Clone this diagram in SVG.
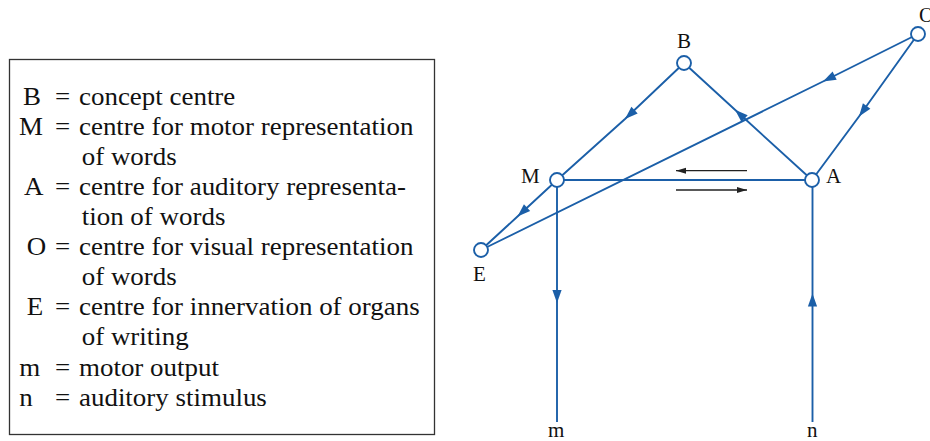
<svg xmlns="http://www.w3.org/2000/svg" width="930" height="441" viewBox="0 0 930 441">
<style>
.lg{font-size:24.5px}
.lb{font-size:21px}
.c{stroke:#1b5fa8;stroke-width:1.9;fill:none}
.n{fill:#fff;stroke:#1b5fa8;stroke-width:1.9}
.k{stroke:#222;stroke-width:1.3;fill:none}
</style>
<defs>
<marker id="ah" markerUnits="userSpaceOnUse" markerWidth="16" markerHeight="12" viewBox="-14 -6 16 12" refX="0" refY="0" orient="auto">
<path d="M0,0 L-13,-4.6 L-13,4.6 Z" fill="#1b5fa8"/>
</marker>
<marker id="kh" markerUnits="userSpaceOnUse" markerWidth="12" markerHeight="8" viewBox="-11 -4 12 8" refX="0" refY="0" orient="auto">
<path d="M0,0 L-10,-3 L-10,3 Z" fill="#222"/>
</marker>
</defs>
<g font-family="'Liberation Serif', 'Times New Roman', 'DejaVu Serif', serif" fill="#111">
<g id="legend">
<rect x="9.5" y="59.5" width="425" height="375" fill="none" stroke="#333" stroke-width="1.3"/>
<g transform="scale(1.1,1)">
<text class="lg" x="20.9" y="105">B</text>
<text class="lg" x="50" y="105">=</text>
<text class="lg" x="71.8" y="105">concept centre</text>
<text class="lg" x="17.3" y="135">M</text>
<text class="lg" x="50" y="135">=</text>
<text class="lg" x="71.8" y="135">centre for motor representation</text>
<text class="lg" x="74.3" y="165">of words</text>
<text class="lg" x="21.8" y="195.5">A</text>
<text class="lg" x="50" y="195.5">=</text>
<text class="lg" x="71.8" y="195.5">centre for auditory representa-</text>
<text class="lg" x="74.3" y="225.5">tion of words</text>
<text class="lg" x="24.3" y="255.5">O</text>
<text class="lg" x="50" y="255.5">=</text>
<text class="lg" x="71.8" y="255.5">centre for visual representation</text>
<text class="lg" x="74.3" y="285.5">of words</text>
<text class="lg" x="24.3" y="315.5">E</text>
<text class="lg" x="50" y="315.5">=</text>
<text class="lg" x="71.8" y="315.5">centre for innervation of organs</text>
<text class="lg" x="74.3" y="345.5">of writing</text>
<text class="lg" x="17.5" y="376.5">m</text>
<text class="lg" x="50" y="376.5">=</text>
<text class="lg" x="71.8" y="376.5">motor output</text>
<text class="lg" x="17.5" y="406.5">n</text>
<text class="lg" x="50" y="406.5">=</text>
<text class="lg" x="71.8" y="406.5">auditory stimulus</text>
</g>
</g>
<g id="connectors">
<path class="c" d="M684,63 L625,119 L557,180" marker-mid="url(#ah)"/>
<path class="c" d="M812,180 L735,109.8 L684,63" marker-mid="url(#ah)"/>
<path class="c" d="M918,34 L859,116.5 L812,180" marker-mid="url(#ah)"/>
<path class="c" d="M918,34 L823,81.5 L481,250" marker-mid="url(#ah)"/>
<path class="c" d="M557,180 L517.5,216.5 L481,250" marker-mid="url(#ah)"/>
<path class="c" d="M557,180 L812,180"/>
<path class="c" d="M557,180 L557,303 L557,422" marker-mid="url(#ah)"/>
<path class="c" d="M812.5,422 L812.5,293.5 L812.5,180" marker-mid="url(#ah)"/>
<path class="k" d="M747,170.7 L676,170.7" marker-end="url(#kh)"/>
<path class="k" d="M676,190 L747,190" marker-end="url(#kh)"/>
</g>
<g id="node-B"><circle class="n" cx="684" cy="63" r="7"/><text class="lb" x="677" y="48">B</text></g>
<g id="node-O"><circle class="n" cx="918" cy="34" r="7"/><text class="lb" x="919" y="22">O</text></g>
<g id="node-M"><circle class="n" cx="557" cy="180" r="7"/><text class="lb" x="521" y="183">M</text></g>
<g id="node-A"><circle class="n" cx="812" cy="180" r="7"/><text class="lb" x="826" y="183">A</text></g>
<g id="node-E"><circle class="n" cx="481" cy="250" r="7"/><text class="lb" x="473" y="281">E</text></g>
<g id="node-m"><text class="lb" x="548" y="437">m</text></g>
<g id="node-n"><text class="lb" x="807" y="437">n</text></g>
</g>
</svg>
